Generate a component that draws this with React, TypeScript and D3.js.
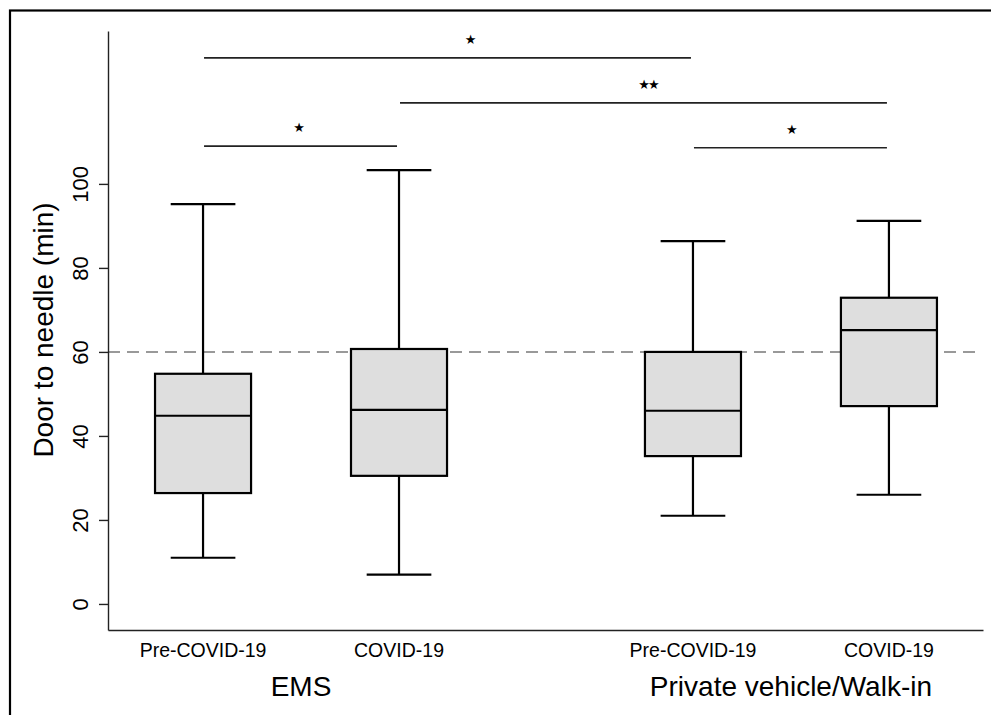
import React, { useEffect, useRef } from "react";
import * as d3 from "d3";

// groups and sub-categories
const groups = ["EMS", "Private vehicle/Walk-in"];
const periods = ["Pre-COVID-19", "COVID-19"];

// box stats per box, in order EMS pre, EMS covid, PV pre, PV covid
const lowerWhisker = [11, 7, 21, 26];
const q1 = [26.4, 30.5, 35.2, 47.1];
const medians = [44.8, 46.2, 46, 65.2];
const q3 = [54.8, 60.7, 60, 72.9];
const upperWhisker = [95.2, 103.3, 86.4, 91.2];

const yTicks = [0, 20, 40, 60, 80, 100];
const refLine = 60;

// significance brackets: from box, to box, level, label and where the label sits
const brFrom = [0, 1, 2, 0];
const brTo = [2, 3, 3, 1];
const brLevel = [130, 119.3, 108.6, 109];
const brLabel = ["★", "★★", "★", "★"];
const brLabelAt = [1.36, 2.27, 3.0, 0.485];

const font = "'Liberation Sans', Arial, Helvetica, sans-serif";

export default function App() {
  const ref = useRef<SVGSVGElement>(null);

  useEffect(() => {
    const svg = d3.select(ref.current);
    svg.selectAll("*").remove();

    const W = 991, H = 715;
    var x = d3.scaleLinear().domain([-0.485, 3.98]).range([108, 983]);
    var y = d3.scaleLinear().domain([-6.2, 136.4]).range([630, 31]);

    // position of each box: groups are 2.5 units apart
    var pos = (i: number) => Math.floor(i / 2) * 2.5 + (i % 2);

    svg.append("rect").attr("width", W).attr("height", H).attr("fill", "white");

    // frame (only top and left visible)
    svg.append("rect")
      .attr("x", 10).attr("y", 10.5)
      .attr("width", W + 20).attr("height", H + 20)
      .attr("fill", "none").attr("stroke", "black").attr("stroke-width", 2.2);

    // reference line
    svg.append("line")
      .attr("x1", x(-0.485)).attr("x2", 978)
      .attr("y1", y(refLine)).attr("y2", y(refLine))
      .attr("stroke", "#999").attr("stroke-width", 2)
      .attr("stroke-dasharray", "12,7");

    // y axis
    var yAxis = d3.axisLeft(y).tickValues(yTicks).tickSize(9).tickSizeOuter(0);
    var ya = svg.append("g").attr("transform", "translate(108,0)").call(yAxis);
    ya.select(".domain").attr("stroke", "#222").attr("stroke-width", 1.4);
    ya.selectAll(".tick line").attr("stroke", "#222").attr("stroke-width", 1.4);
    ya.selectAll(".tick text")
      .attr("font-family", font).attr("font-size", 22).attr("fill", "black")
      .attr("transform", "rotate(-90)")
      .attr("x", 0).attr("y", -20).attr("dy", 0)
      .attr("text-anchor", "middle");

    // x axis line
    var xAxis = d3.axisBottom(x).tickValues([]).tickSizeOuter(0);
    var xa = svg.append("g").attr("transform", "translate(0,630)").call(xAxis);
    xa.select(".domain").attr("stroke", "#222").attr("stroke-width", 1.4);

    // boxes
    var bw = 0.49, cw = 0.33;
    for (var i = 0; i < medians.length; i++) {
      var cx = x(pos(i));
      var half = (x(bw) - x(0)) / 2;
      var ch = (x(cw) - x(0)) / 2;
      var g = svg.append("g").attr("stroke", "black").attr("stroke-width", 2.2);
      g.append("line").attr("x1", cx).attr("x2", cx)
        .attr("y1", y(upperWhisker[i])).attr("y2", y(q3[i]));
      g.append("line").attr("x1", cx).attr("x2", cx)
        .attr("y1", y(q1[i])).attr("y2", y(lowerWhisker[i]));
      g.append("line").attr("x1", cx - ch).attr("x2", cx + ch)
        .attr("y1", y(upperWhisker[i])).attr("y2", y(upperWhisker[i]));
      g.append("line").attr("x1", cx - ch).attr("x2", cx + ch)
        .attr("y1", y(lowerWhisker[i])).attr("y2", y(lowerWhisker[i]));
      g.append("rect")
        .attr("x", cx - half).attr("width", half * 2)
        .attr("y", y(q3[i])).attr("height", y(q1[i]) - y(q3[i]))
        .attr("fill", "#dedede");
      g.append("line").attr("x1", cx - half).attr("x2", cx + half)
        .attr("y1", y(medians[i])).attr("y2", y(medians[i]));

      svg.append("text")
        .attr("x", cx).attr("y", 657)
        .attr("text-anchor", "middle")
        .attr("font-family", font).attr("font-size", 19.5)
        .text(periods[i % 2]);
    }

    // group labels
    groups.forEach(function (name, gi) {
      svg.append("text")
        .attr("x", (x(pos(gi * 2)) + x(pos(gi * 2 + 1))) / 2)
        .attr("y", 696)
        .attr("text-anchor", "middle")
        .attr("font-family", font).attr("font-size", 28)
        .text(name);
    });

    // brackets
    for (var b = 0; b < brFrom.length; b++) {
      var x1 = x(pos(brFrom[b])) + 1, x2 = x(pos(brTo[b])) - 2;
      svg.append("line")
        .attr("x1", x1).attr("x2", x2)
        .attr("y1", y(brLevel[b])).attr("y2", y(brLevel[b]))
        .attr("stroke", "#222").attr("stroke-width", 1.6);
      svg.append("text")
        .attr("x", x(brLabelAt[b])).attr("y", y(brLevel[b]) - 14)
        .attr("text-anchor", "middle")
        .attr("font-family", "'DejaVu Sans', sans-serif").attr("font-size", 13)
        .attr("letter-spacing", -2)
        .text(brLabel[b]);
    }

    // y label
    svg.append("text")
      .attr("transform", "translate(53,330) rotate(-90)")
      .attr("text-anchor", "middle")
      .attr("font-family", font).attr("font-size", 28)
      .text("Door to needle (min)");
  }, []);

  return (
    <svg ref={ref} width={991} height={715}
      style={{ position: "absolute", left: 0, top: 0 }} />
  );
}
